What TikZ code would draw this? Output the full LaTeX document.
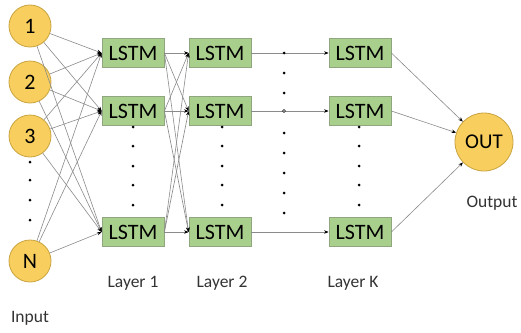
\documentclass[tikz,border=0pt]{standalone}
\usepackage{fontspec}
\setmainfont{Carlito}
\usetikzlibrary{arrows.meta}
\definecolor{unitfill}{HTML}{F8CF5E}
\definecolor{unitline}{HTML}{C9A341}
\definecolor{cellfill}{HTML}{A9CF8D}
\definecolor{cellline}{HTML}{8FA67E}
\definecolor{wire}{HTML}{8A8A8A}
\begin{document}
\begin{tikzpicture}[x=1pt,y=-1pt,
  unit/.style={circle,draw=unitline,fill=unitfill,line width=0.8pt,minimum size=42pt,inner sep=0pt,font=\fontsize{22}{24}\selectfont},
  outunit/.style={unit,minimum size=58pt,font=\fontsize{21}{24}\selectfont},
  cell/.style={rectangle,draw=cellline,fill=cellfill,line width=0.8pt,minimum width=62pt,minimum height=29pt,inner sep=0pt,font=\fontsize{22}{24}\selectfont},
  caption/.style={font=\fontsize{17.5}{20}\selectfont,text=black!80},
  link/.style={draw=wire,line width=0.6pt,-{Stealth[length=4.5pt,width=3.5pt,black]}},
  dot/.style={fill=black,circle,inner sep=0pt,minimum size=3pt}]
\useasboundingbox (0,0) rectangle (521,332);

% input units
\node[unit] (i1) at (30,26) {1};
\node[unit] (i2) at (30,82) {2};
\node[unit] (i3) at (30,136) {3};
\node[unit] (iN) at (30,261) {N};

% LSTM layers
\foreach \l/\x in {a/133,b/220,k/360}{
  \node[cell] (\l1) at (\x,53) {LSTM};
  \node[cell] (\l2) at (\x,111) {LSTM};
  \node[cell] (\l3) at (\x,232) {LSTM};
}

% output unit
\node[outunit] (out) at (484,142) {OUT};

% captions
\node[caption] (cap1) at (133,283) {Layer 1};
\node[caption] (cap2) at (222,283) {Layer 2};
\node[caption] (capk) at (353,283) {Layer K};
\node[caption] (capin) at (30,318) {Input};
\node[caption] (capout) at (492,203) {Output};

% input -> layer 1
\foreach \s in {i1,i2,i3,iN}
  \foreach \t in {a1,a2,a3}
    \draw[link] (\s) -- (\t.west);

% layer 1 -> layer 2
\foreach \s in {a1,a2,a3}
  \foreach \t in {b1,b2,b3}
    \draw[link] (\s.east) -- (\t.west);

% layer 2 -> layer K
\foreach \r in {1,2,3}
  \draw[link] (b\r.east) -- (k\r.west);

% layer K -> output
\foreach \r in {1,2,3}
  \draw[link] (k\r.east) -- (out);

% ellipsis dots
\foreach \y in {162,180,200,220}
  \node[dot] (din\y) at (30,\y) {};
\foreach \x/\n in {133/a,222/b,359/k}
  \foreach \y in {127,146,166,185,205}
    \node[dot] (d\n\y) at (\x,\y) {};
\foreach \y in {53,73,93,133,153,173,193,213}
  \node[dot] (dm\y) at (284,\y) {};
\node[circle,draw=black,fill=white,line width=0.6pt,inner sep=0pt,minimum size=3pt] (dm112) at (284,111) {};
\end{tikzpicture}
\end{document}
